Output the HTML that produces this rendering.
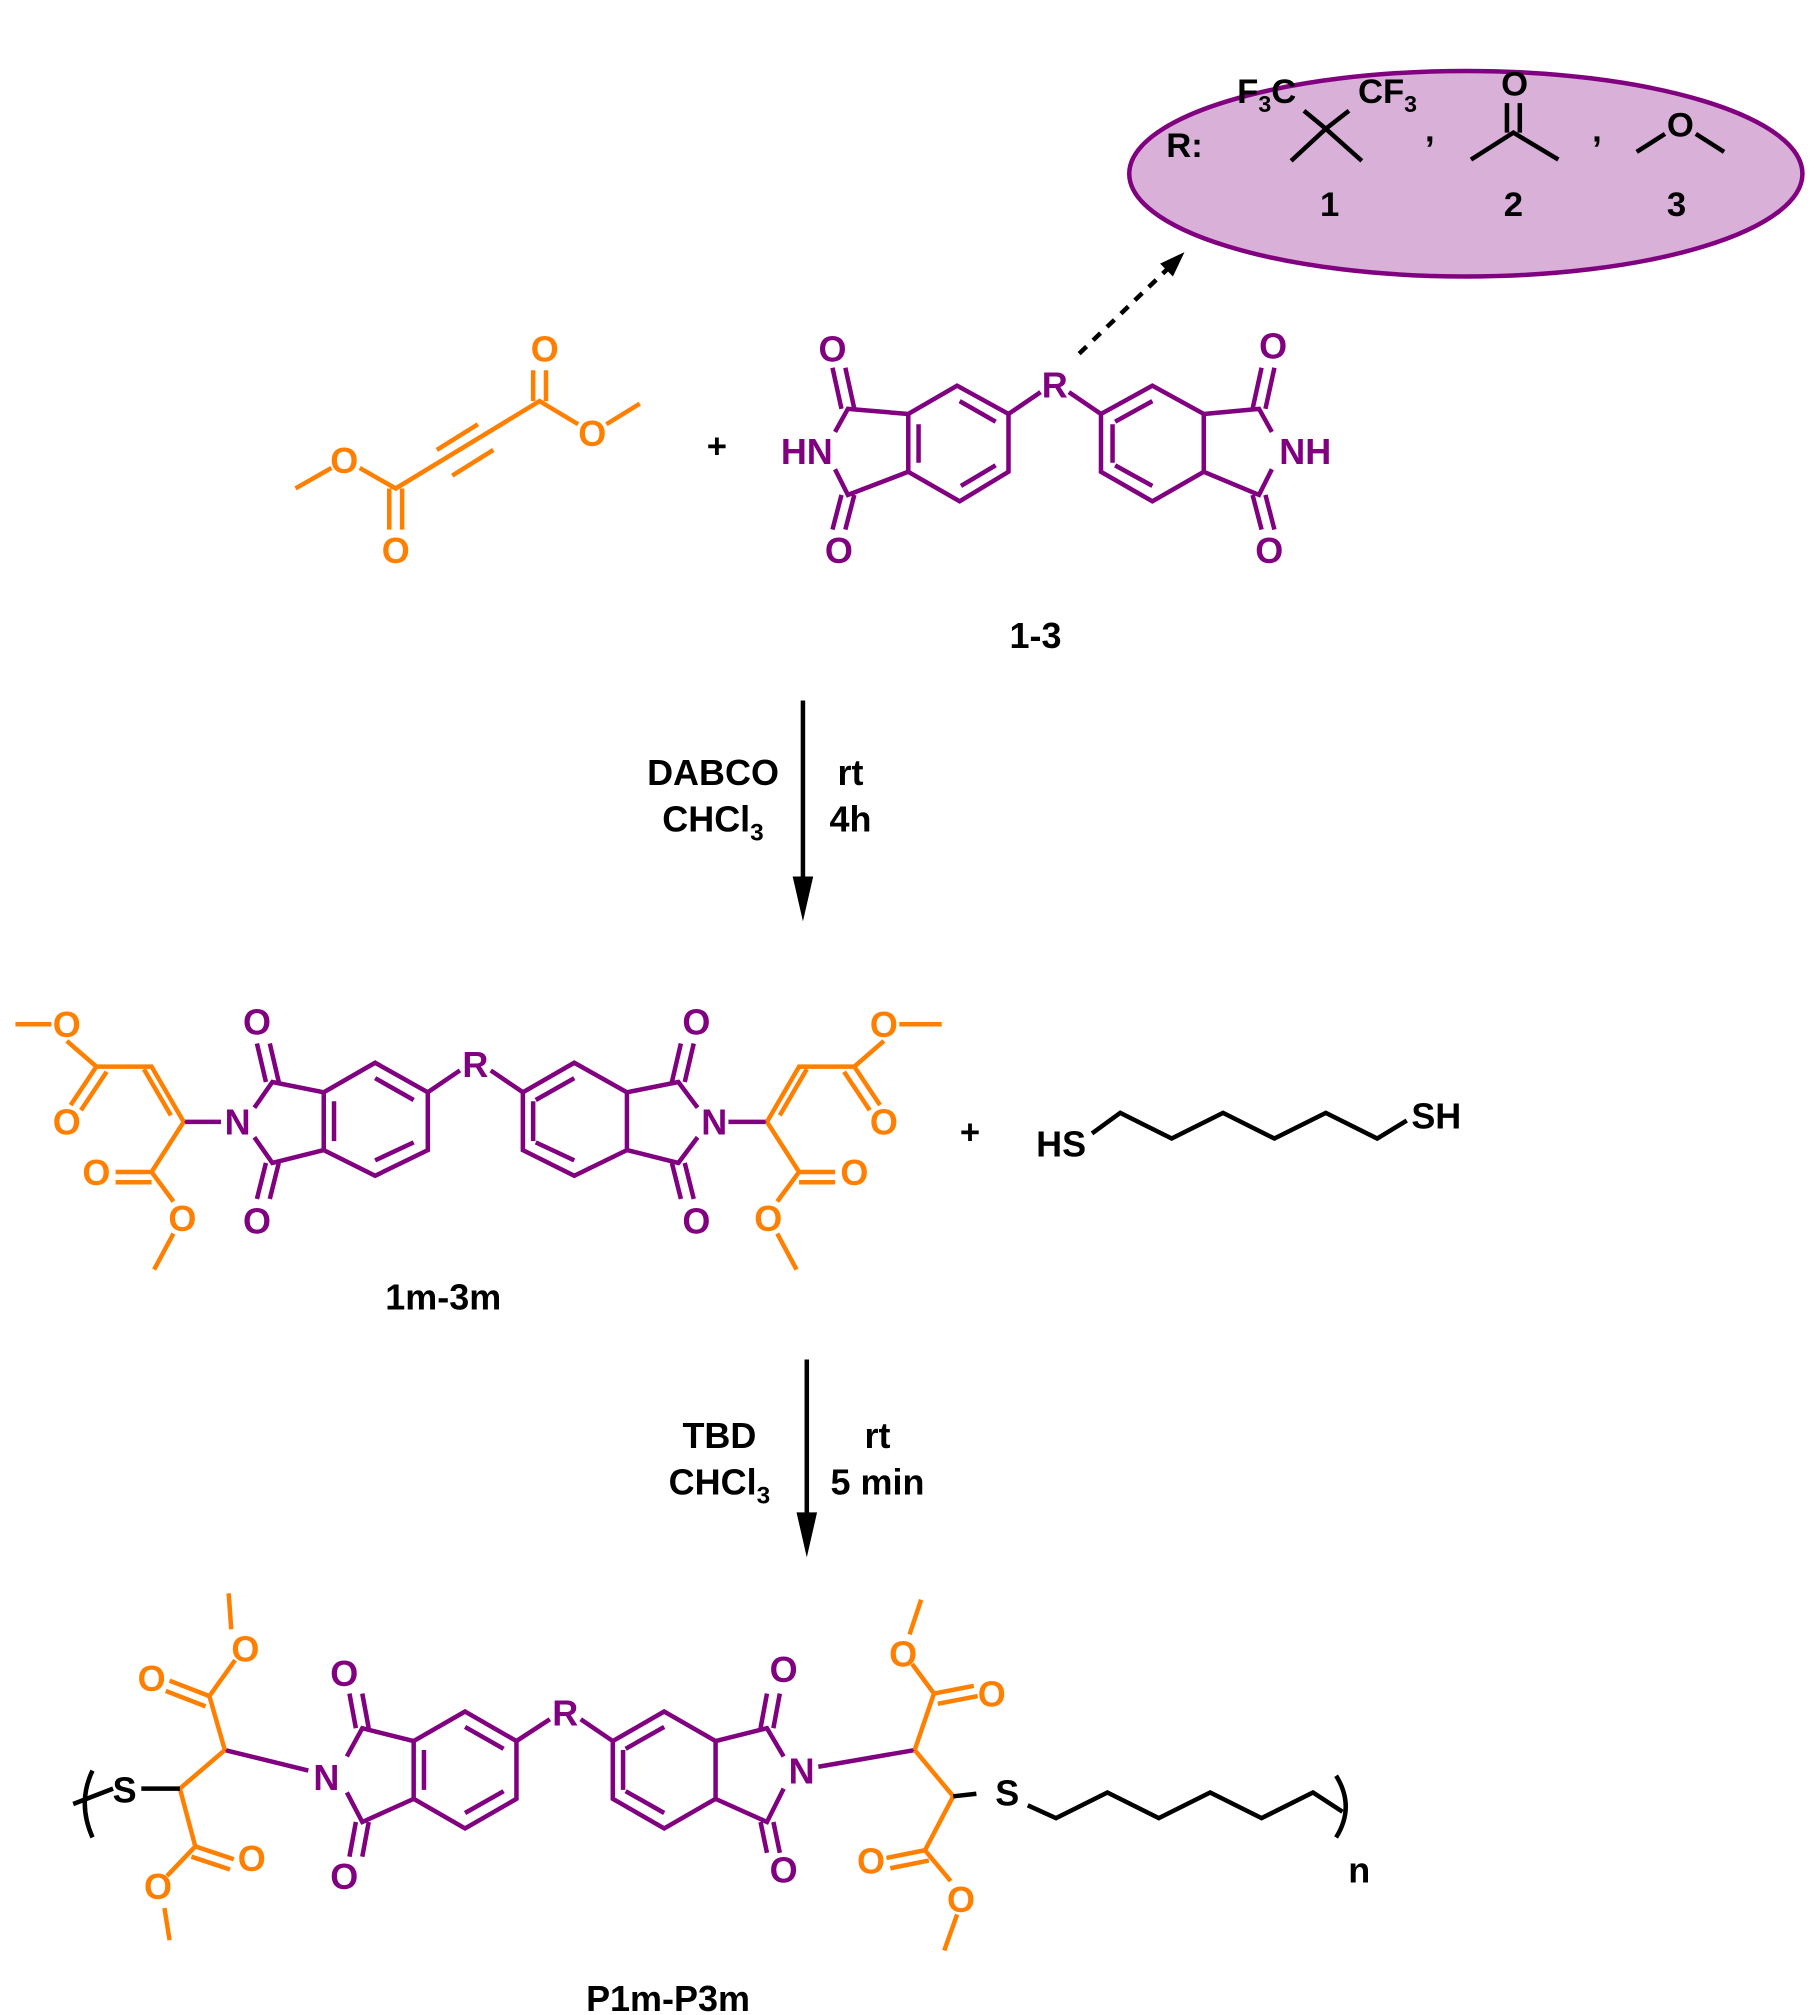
<!DOCTYPE html>
<html><head><meta charset="utf-8"><style>
html,body{margin:0;padding:0;background:#fff;}
svg{display:block}
text{font-family:"Liberation Sans",sans-serif;font-weight:bold;}
</style></head><body>
<svg width="1814" height="2015" viewBox="0 0 1412 1568" xmlns="http://www.w3.org/2000/svg">

<!-- Ellipse -->
<ellipse cx="1141" cy="135" rx="262" ry="80" fill="#d8b0d8" stroke="#800080" stroke-width="3.5"/>
<g font-size="27" fill="#000" text-anchor="middle">
<text x="922" y="122">R:</text>
<text x="986" y="80">F<tspan font-size="18" dy="7">3</tspan><tspan dy="-7">C</tspan></text>
<text x="1080" y="80">CF<tspan font-size="18" dy="7">3</tspan></text>
<text x="1035" y="168">1</text>
<text x="1113" y="110">,</text>
<text x="1179" y="74">O</text>
<text x="1178" y="168">2</text>
<text x="1243" y="110">,</text>
<text x="1308" y="106">O</text>
<text x="1305" y="168">3</text>
</g>
<g stroke="#000" stroke-width="3.5" fill="none">
<path d="M1005,125 L1032,100 L1060,125 M1032,100 L1015,86 M1032,100 L1050,86"/>
<path d="M1145,124 L1178,103 L1213,124"/>
<path d="M1173,103 L1173,80 M1183,103 L1183,80"/>
<path d="M1274,118 L1296,104 M1320,104 L1342,118"/>
</g>

<!-- Dashed arrow -->
<line x1="840" y1="275" x2="910" y2="208" stroke="#000" stroke-width="3.5" stroke-dasharray="8,7"/>
<path d="M922,196 L903,205 L913,215 Z" fill="#000"/>

<!-- Acetylene diester -->
<g stroke="#ff8000" stroke-width="3.5" fill="none">
<path d="M230,380 L258,364 M280,364 L308,380 L420,312 L450,330 M472,330 L498,314"/>
<path d="M303,380 L303,412 M313,380 L313,412"/>
<path d="M415,312 L415,288 M425,312 L425,288"/>
<path d="M340,350 L372,330 M352,370 L384,350"/>
</g>
<g font-size="28" fill="#ff8000" text-anchor="middle">
<text x="268" y="368">O</text><text x="308" y="438">O</text>
<text x="424" y="281">O</text><text x="461" y="347">O</text>
</g>
<text x="558" y="356" font-size="27" text-anchor="middle">+</text>

<!-- Bisimide 1-3 -->
<g stroke="#800080" stroke-width="3.5" fill="none">
<path d="M745,300 L785,322 L785,367 L747,390 L707,367 L707,322 Z"/>
<path d="M747,312 L775,328 M775,362 L748,378 M715,330 L715,360"/>
<path d="M785,322 L810,305 M832,305 L857,322"/>
<path d="M897,300 L937,322 L937,367 L897,390 L857,367 L857,322 Z"/>
<path d="M897,312 L868,328 M866,330 L866,360 M868,362 L897,378" />
<path d="M707,322 L660,318 L650,336 M650,365 L660,385 L707,367"/>
<path d="M655,318 L648,286 M665,318 L658,286 M655,385 L648,412 M665,385 L658,412"/>
<path d="M937,322 L980,318 L990,336 M990,365 L980,385 L937,367"/>
<path d="M975,318 L982,286 M985,318 L992,286 M975,385 L982,412 M985,385 L992,412"/>
</g>
<g font-size="28" fill="#800080" text-anchor="middle">
<text x="648" y="281">O</text><text x="653" y="438">O</text>
<text x="628" y="361">HN</text>
<text x="821" y="309">R</text>
<text x="991" y="279">O</text><text x="988" y="438">O</text>
<text x="1016" y="361">NH</text>
</g>
<text x="806" y="504" font-size="28" text-anchor="middle">1-3</text>

<!-- Arrow 1 -->
<line x1="625" y1="545" x2="625" y2="690" stroke="#000" stroke-width="3.5"/>
<path d="M617,682 L625,717 L633,682 Z" fill="#000"/>
<g font-size="28" text-anchor="middle">
<text x="555" y="611">DABCO</text>
<text x="555" y="647">CHCl<tspan font-size="19" dy="7">3</tspan></text>
<text x="662" y="611">rt</text>
<text x="662" y="647">4h</text>
</g>

<!-- 1m-3m -->
<g stroke="#800080" stroke-width="3.5" fill="none">
<path d="M292,827 L333,850 L333,895 L292,915 L252,895 L252,850 Z"/>
<path d="M292,839 L322,856 M322,889 L292,903 M260,857 L260,888"/>
<path d="M333,850 L358,833 M382,833 L407,850"/>
<path d="M447,827 L488,850 L488,895 L447,915 L407,895 L407,850 Z"/>
<path d="M447,839 L417,856 M415,857 L415,888 M417,889 L447,903"/>
<path d="M252,850 L212,842 L198,862 M198,885 L212,905 L252,895"/>
<path d="M207,842 L200,812 M217,842 L210,812 M207,905 L200,933 M217,905 L210,933"/>
<path d="M488,850 L528,842 L543,862 M543,885 L528,905 L488,895"/>
<path d="M523,842 L530,812 M533,842 L540,812 M523,905 L530,933 M533,905 L540,933"/>
<path d="M172,873 L143,873 M567,873 L597,873"/>
</g>
<g stroke="#ff8000" stroke-width="3.5" fill="none">
<path d="M143,873 L118,830 L75,830 L52,810 M40,797 L12,797 M75,830 L55,860 M83,834 L63,864"/>
<path d="M133,868 L112,832"/>
<path d="M143,873 L118,912 L90,912 M118,920 L90,920 M118,912 L135,935 M135,960 L120,988"/>
<path d="M597,873 L622,830 L665,830 L688,810 M700,797 L733,797 M665,830 L685,860 M657,834 L677,864"/>
<path d="M607,868 L628,832"/>
<path d="M597,873 L622,912 L650,912 M622,920 L650,920 M622,912 L605,935 M605,960 L620,988"/>
</g>
<g font-size="28" fill="#ff8000" text-anchor="middle">
<text x="52" y="807">O</text><text x="52" y="883">O</text>
<text x="75" y="922">O</text><text x="142" y="958">O</text>
<text x="688" y="807">O</text><text x="688" y="883">O</text>
<text x="665" y="922">O</text><text x="598" y="958">O</text>
</g>
<g font-size="28" fill="#800080" text-anchor="middle">
<text x="200" y="805">O</text><text x="200" y="960">O</text>
<text x="185" y="883">N</text>
<text x="370" y="838">R</text>
<text x="542" y="805">O</text><text x="542" y="960">O</text>
<text x="556" y="883">N</text>
</g>
<text x="755" y="890" font-size="27" text-anchor="middle">+</text>
<g font-size="28" text-anchor="middle">
<text x="826" y="900">HS</text><text x="1118" y="878">SH</text>
</g>
<path d="M850,882 L872,866 L912,886 L952,866 L992,886 L1032,866 L1072,886 L1095,872" stroke="#000" stroke-width="3.5" fill="none"/>
<text x="345" y="1019" font-size="28" text-anchor="middle">1m-3m</text>

<!-- Arrow 2 -->
<line x1="628" y1="1058" x2="628" y2="1185" stroke="#000" stroke-width="3.5"/>
<path d="M620,1177 L628,1212 L636,1177 Z" fill="#000"/>
<g font-size="28" text-anchor="middle">
<text x="560" y="1127">TBD</text>
<text x="560" y="1163">CHCl<tspan font-size="19" dy="7">3</tspan></text>
<text x="683" y="1127">rt</text>
<text x="683" y="1163">5 min</text>
</g>

<!-- Polymer -->
<g stroke="#800080" stroke-width="3.5" fill="none">
<path d="M362,1332 L402,1355 L402,1400 L362,1423 L322,1400 L322,1355 Z"/>
<path d="M362,1344 L392,1361 M392,1394 L362,1411 M330,1362 L330,1393"/>
<path d="M402,1355 L428,1338 M452,1338 L477,1355"/>
<path d="M517,1332 L557,1355 L557,1400 L517,1423 L477,1400 L477,1355 Z"/>
<path d="M517,1344 L487,1361 M485,1362 L485,1393 M487,1394 L517,1411"/>
<path d="M322,1355 L282,1345 L270,1367 M270,1395 L282,1418 L322,1400"/>
<path d="M277,1345 L272,1318 M287,1345 L282,1318 M277,1418 L272,1445 M287,1418 L282,1445"/>
<path d="M557,1355 L597,1345 L610,1367 M610,1392 L597,1418 L557,1400"/>
<path d="M592,1345 L597,1318 M602,1345 L607,1318 M592,1418 L597,1442 M602,1418 L607,1442"/>
<path d="M240,1378 L175,1362 M637,1375 L712,1362"/>
</g>
<g stroke="#ff8000" stroke-width="3.5" fill="none">
<path d="M175,1362 L163,1320 L183,1292 M180,1268 L178,1240 M163,1320 L132,1308 M160,1328 L129,1316"/>
<path d="M175,1362 L140,1392 L152,1437 L182,1447 M149,1445 L179,1455 M152,1437 L130,1460 M128,1485 L132,1510"/>
<path d="M712,1362 L727,1318 L710,1295 M708,1272 L717,1245 M727,1318 L758,1312 M730,1326 L761,1320"/>
<path d="M712,1362 L742,1398 L720,1440 L690,1446 M723,1448 L693,1454 M720,1440 L740,1464 M745,1490 L735,1518"/>
</g>
<g stroke="#000" stroke-width="3.5" fill="none">
<path d="M110,1392 L140,1392 M760,1396 L742,1398"/>
<path d="M800,1405 L822,1415 L862,1395 L902,1415 L942,1395 L982,1415 L1022,1395 L1045,1410"/>
<path d="M72,1378 Q60,1403 72,1430 M57,1404 L88,1392"/>
<path d="M1040,1382 Q1055,1406 1040,1430"/>
</g>
<g font-size="28" fill="#ff8000" text-anchor="middle">
<text x="191" y="1293">O</text><text x="118" y="1316">O</text>
<text x="196" y="1456">O</text><text x="123" y="1478">O</text>
<text x="703" y="1297">O</text><text x="772" y="1328">O</text>
<text x="678" y="1458">O</text><text x="748" y="1488">O</text>
</g>
<g font-size="28" fill="#800080" text-anchor="middle">
<text x="268" y="1312">O</text><text x="268" y="1470">O</text>
<text x="254" y="1393">N</text>
<text x="440" y="1343">R</text>
<text x="610" y="1309">O</text><text x="610" y="1465">O</text>
<text x="624" y="1388">N</text>
</g>
<g font-size="28" text-anchor="middle">
<text x="97" y="1403">S</text>
<text x="784" y="1405">S</text>
<text x="1058" y="1465">n</text>
<text x="520" y="1565">P1m-P3m</text>
</g>
</svg>
</body></html>
